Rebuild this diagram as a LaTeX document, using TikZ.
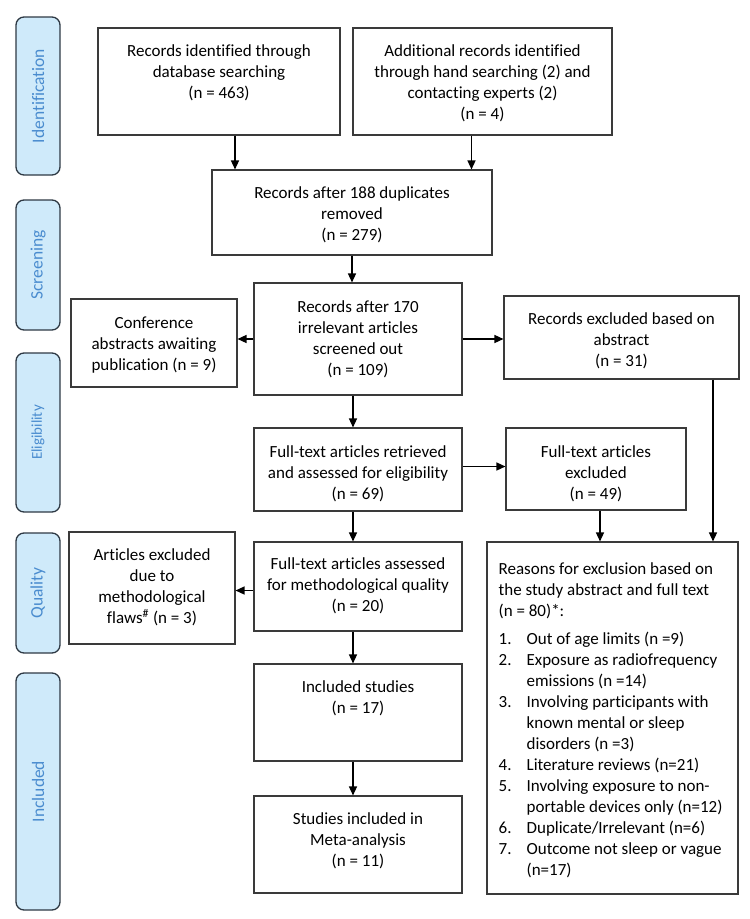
\documentclass[tikz,border=0pt]{standalone}
\usepackage{fontspec}
\setmainfont{Carlito}[Ligatures=NoCommon]
\usepackage{xcolor}
\definecolor{tabfill}{HTML}{CFEAFA}
\definecolor{tabline}{HTML}{2E3944}
\definecolor{tabtext}{HTML}{4A8CCF}
\definecolor{boxline}{HTML}{3A3A3A}
\usepackage{tikz}
\usetikzlibrary{arrows.meta, positioning}

\tikzset{
  stage/.style={draw=tabline, line width=1.3pt, fill=tabfill, rounded corners=8pt,
    minimum width=44pt, inner sep=0pt},
  stagetext/.style={text=tabtext, rotate=90, font=\fontsize{17.5}{20}\selectfont},
  box/.style={draw=boxline, line width=1.1pt, inner sep=0pt},
  txt/.style={align=center, inner sep=0pt, font=\fontsize{17}{21}\selectfont},
  flow/.style={line width=1.4pt, -{Triangle[length=9pt, width=8pt]}}
}

\begin{document}
\begin{tikzpicture}[x=1pt, y=-1pt]
  \useasboundingbox (0,0) rectangle (750,919);

  % --- stages down the left side ---
  \node[stage, minimum height=158pt] (identtab) at (38, 96) {};
  \node[stagetext] (identlbl) at (identtab) {Identification};
  \node[stage, minimum height=130pt] (screentab) at (38, 265) {};
  \node[stagetext] (screenlbl) at (screentab) {Screening};
  \node[stage, minimum height=159pt] (eligtab) at (38, 432.5) {};
  \node[stagetext, font=\fontsize{15}{17}\selectfont] (eliglbl) at (eligtab) {Eligibility};
  \node[stage, minimum height=120pt] (qualtab) at (38, 593) {};
  \node[stagetext] (quallbl) at (qualtab) {Quality};
  \node[stage, minimum height=237pt] (incltab) at (38, 791.5) {};
  \node[stagetext] (incllbl) at (incltab) {Included};

  % --- identification ---
  \node[box, minimum width=242pt, minimum height=107pt] (recdb) at (219, 81.5) {};
  \node[txt, below=17pt of recdb.north] (recdb-t)
    {Records identified through\\ database searching\\ (n = 463)};
  \node[box, minimum width=259pt, minimum height=107pt] (recadd) at (482.5, 81.5) {};
  \node[txt, below=17pt of recadd.north] (recadd-t)
    {Additional records identified\\ through hand searching (2) and\\ contacting experts (2)\\ (n = 4)};

  % --- screening ---
  \node[box, minimum width=280pt, minimum height=85pt] (dedup) at (352, 212.5) {};
  \node[txt, below=17pt of dedup.north] (dedup-t)
    {Records after 188 duplicates\\ removed\\ (n = 279)};
  \node[box, minimum width=208pt, minimum height=112pt] (screen) at (358, 339) {};
  \node[txt, below=18pt of screen.north] (screen-t)
    {Records after 170\\ irrelevant articles\\ screened out\\ (n = 109)};
  \node[box, minimum width=166pt, minimum height=88pt] (conf) at (154, 343) {};
  \node[txt, below=18pt of conf.north] (conf-t)
    {Conference\\ abstracts awaiting\\ publication (n = 9)};
  \node[box, minimum width=235pt, minimum height=83pt] (absexcl) at (621.5, 337.5) {};
  \node[txt, below=17pt of absexcl.north] (absexcl-t)
    {Records excluded based on\\ abstract\\ (n = 31)};

  % --- eligibility ---
  \node[box, minimum width=208pt, minimum height=83pt] (fulltext) at (358, 469.5) {};
  \node[txt, below=18pt of fulltext.north] (fulltext-t)
    {Full-text articles retrieved\\ and assessed for eligibility\\ (n = 69)};
  \node[box, minimum width=180pt, minimum height=82pt] (ftexcl) at (596, 469) {};
  \node[txt, below=18pt of ftexcl.north] (ftexcl-t)
    {Full-text articles\\ excluded\\ (n = 49)};

  % --- quality ---
  \node[box, minimum width=208pt, minimum height=89pt] (quality) at (358, 586.5) {};
  \node[txt, below=16pt of quality.north] (quality-t)
    {Full-text articles assessed\\ for methodological quality\\ (n = 20)};
  \node[box, minimum width=166pt, minimum height=112pt] (flaws) at (152, 588) {};
  \node[txt, below=17pt of flaws.north] (flaws-t)
    {Articles excluded\\ due to\\ methodological\\ flaws\textsuperscript{\#} (n = 3)};
  \node[box, minimum width=251pt, minimum height=352pt] (reasons) at (612.5, 718) {};
  \node[txt, align=left, anchor=north west] (reasons-t) at ([xshift=12pt, yshift=-21pt]reasons.north west)
    {Reasons for exclusion based on\\ the study abstract and full text\\ (n = 80)*:\\[7pt]
     \makebox[28pt][l]{1.}Out of age limits (n =9)\\
     \makebox[28pt][l]{2.}Exposure as radiofrequency\\
     \hspace*{28pt}emissions (n =14)\\
     \makebox[28pt][l]{3.}Involving participants with\\
     \hspace*{28pt}known mental or sleep\\
     \hspace*{28pt}disorders (n =3)\\
     \makebox[28pt][l]{4.}Literature reviews (n=21)\\
     \makebox[28pt][l]{5.}Involving exposure to non-\\
     \hspace*{28pt}portable devices only (n=12)\\
     \makebox[28pt][l]{6.}Duplicate/Irrelevant (n=6)\\
     \makebox[28pt][l]{7.}Outcome not sleep or vague\\
     \hspace*{28pt}(n=17)};

  % --- included ---
  \node[box, minimum width=208pt, minimum height=97pt] (incstud) at (358, 712.5) {};
  \node[txt, below=17pt of incstud.north] (incstud-t)
    {Included studies\\ (n = 17)};
  \node[box, minimum width=208pt, minimum height=97pt] (meta) at (358, 844.5) {};
  \node[txt, below=17pt of meta.north] (meta-t)
    {Studies included in\\ Meta-analysis\\ (n = 11)};

  % --- arrows ---
  \draw[flow] ([xshift=16pt]recdb.south) -- ([xshift=16pt]recdb.south |- dedup.north);
  \draw[flow] ([xshift=-11pt]recadd.south) -- ([xshift=-11pt]recadd.south |- dedup.north);
  \draw[flow] (dedup.south) -- (dedup.south |- screen.north);
  \draw[flow] (screen.west) -- (screen.west -| conf.east);
  \draw[flow] (screen.east) -- (screen.east -| absexcl.west);
  \draw[flow] ([xshift=-5pt]screen.south) -- ([xshift=-5pt]fulltext.north);
  \draw[flow] ([yshift=3pt]fulltext.east) -- ([yshift=3pt]fulltext.east -| ftexcl.west);
  \draw[flow] ([xshift=-5pt]fulltext.south) -- ([xshift=-5pt]quality.north);
  \draw[flow] ([yshift=-4pt]quality.west) -- ([yshift=-4pt]quality.west -| flaws.east);
  \draw[flow] ([xshift=-5pt]quality.south) -- ([xshift=-5pt]incstud.north);
  \draw[flow] ([xshift=-5pt]incstud.south) -- ([xshift=-5pt]meta.north);
  \draw[flow] ([xshift=4pt]ftexcl.south) -- ([xshift=4pt]ftexcl.south |- reasons.north);
  \draw[flow] ([xshift=91.5pt]absexcl.south) -- ([xshift=91.5pt]absexcl.south |- reasons.north);
\end{tikzpicture}
\end{document}
